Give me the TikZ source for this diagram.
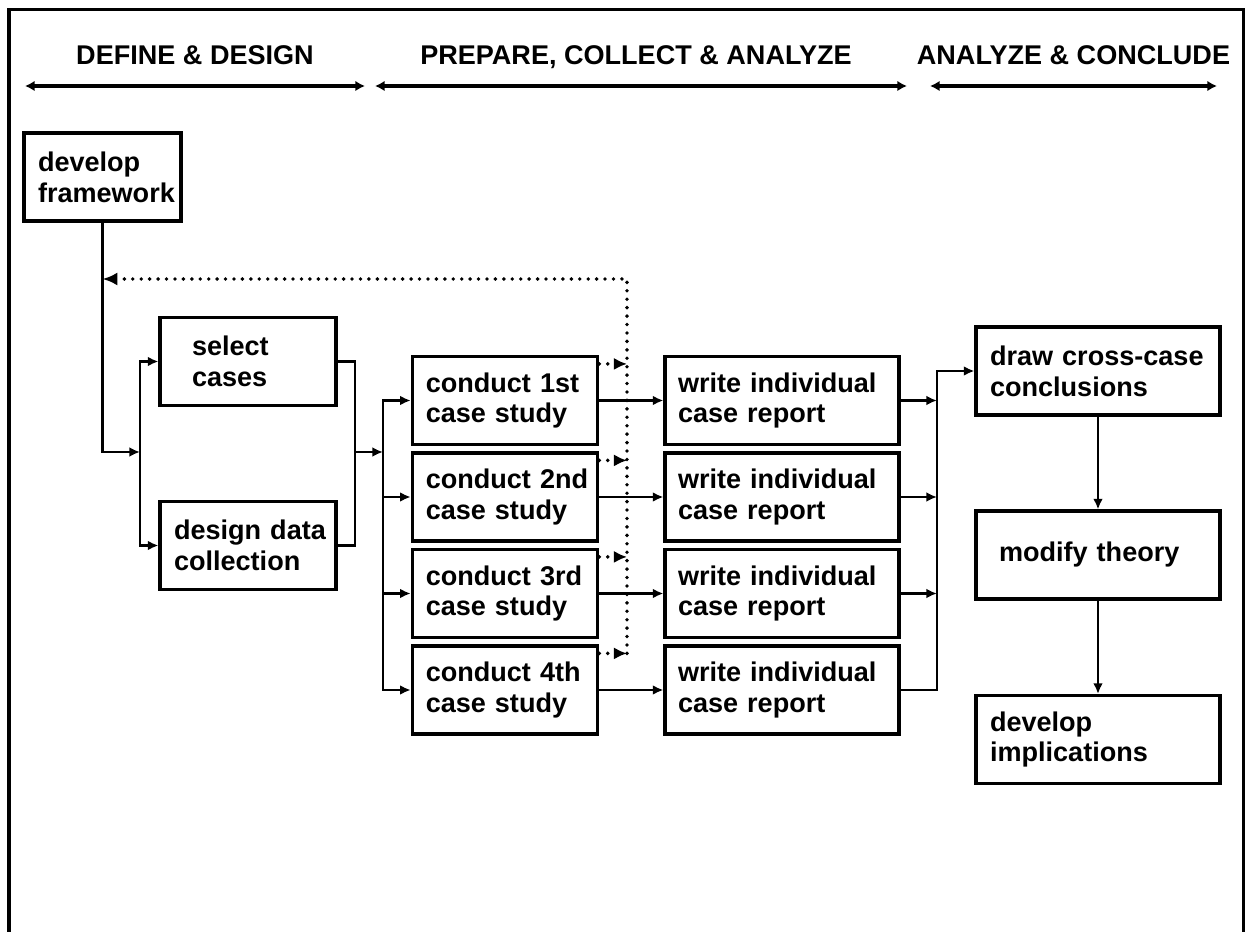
\documentclass[tikz,border=0pt]{standalone}
\usepackage{fontspec}
\setmainfont{Liberation Sans}
\usetikzlibrary{arrows.meta,calc}

\begin{document}
\begin{tikzpicture}[x=0.02cm,y=-0.02cm,>={Latex[length=6pt,width=5.5pt]},
  every node/.style={font=\bfseries\fontsize{15.4}{17.5}\selectfont},
  box/.style 2 args={draw,line width=1.8pt,rectangle,minimum height=1.76cm,
    align=left,inner ysep=0pt,text width=#1,inner xsep=#2},
  conn/.style={line width=1.5pt},
  hdr/.style={line width=1.8pt,{Latex[length=5.5pt,width=6pt]}-{Latex[length=5.5pt,width=6pt]}},
  fb/.style={line width=2.2pt,line cap=round,dash pattern=on 0pt off 4.8pt}]
\useasboundingbox (0,0) rectangle (1245,932);
% frame, open at the bottom
\draw[line width=1.8pt] (9,932) -- (9,9.5) -- (1243.5,9.5) -- (1243.5,932);

% phases
\coordinate (h1l) at (25,86);  \coordinate (h1r) at (365,86);
\coordinate (h2l) at (375,86); \coordinate (h2r) at (907,86);
\coordinate (h3l) at (930,86); \coordinate (h3r) at (1217,86);
\draw[hdr] (h1l) -- (h1r) node[midway,anchor=base,yshift=0.44cm] (t1) {DEFINE \& DESIGN};
\draw[hdr] (h2l) -- (h2r) node[midway,anchor=base,yshift=0.44cm,xshift=-0.1cm] (t2) {PREPARE, COLLECT \& ANALYZE};
\draw[hdr] (h3l) -- (h3r) node[midway,anchor=base,yshift=0.44cm] (t3) {ANALYZE \& CONCLUDE};

% boxes
\node[box={2.58cm}{0.28cm}] (fw) at (102.5,177) {develop\\framework};
\node[box={2.24cm}{0.64cm}] (sel) at (248,361.5) {select\\cases};
\node[box={2.96cm}{0.28cm}] (dsg) at (248,545.5) {design~data\\collection};
\foreach \i/\y/\t in {1/400.5/1st,2/497/2nd,3/593.5/3rd,4/690/4th}{
  \node[box={3.17cm}{0.27cm}] (c\i) at (505,\y) {conduct~\t\\case~study};
  \node[box={4.16cm}{0.26cm}] (w\i) at (782,\y) {write~individual\\case~report};
}
\node[box={4.32cm}{0.28cm}] (dcc) at (1098,371) {draw~cross-case\\conclusions};
\node[box={3.96cm}{0.46cm}] (mod) at (1098,555) {modify~theory};
\node[box={4.32cm}{0.28cm}] (imp) at (1098,739.5) {develop\\implications};

% connectors
\coordinate (lbus) at (140,452);
\coordinate (rbus) at (355,452);
\coordinate (cbus) at (383,452);
\coordinate (obus) at (937,371);
\coordinate (fbtop) at (627,279);
\draw[conn,->] (fw.south) |- (lbus);
\draw[conn,->] (lbus) |- (sel.west);
\draw[conn,->] (lbus) |- (dsg.west);
\draw[conn] (sel.east) -| (rbus) |- (dsg.east);
\draw[conn,->] (rbus) -- (cbus);
\foreach \i in {1,...,4}{
  \draw[conn,->] (cbus) |- (c\i.west);
  \draw[conn,->] (c\i.east) -- (w\i.west);
}
\foreach \i in {1,2,3}
  \draw[conn,->] (w\i.east) -- (w\i.east -| obus);
\draw[conn,->] (w4.east) -| (obus) -- (dcc.west);
\draw[conn,->] (dcc) -- (mod);
\draw[conn,->] (mod) -- (imp);

% feedback loop
\foreach \i in {1,...,4}{
  \coordinate (d\i) at ([yshift=-0.18cm]c\i.north east);
  \draw[fb,-{Latex[length=7.5pt,width=7pt]}] (d\i) -- (d\i -| fbtop);
}
\draw[fb,-{Latex[length=8.5pt,width=7.5pt]}] (d4 -| fbtop) -- (fbtop) -- (fbtop -| fw.south);
\end{tikzpicture}
\end{document}
